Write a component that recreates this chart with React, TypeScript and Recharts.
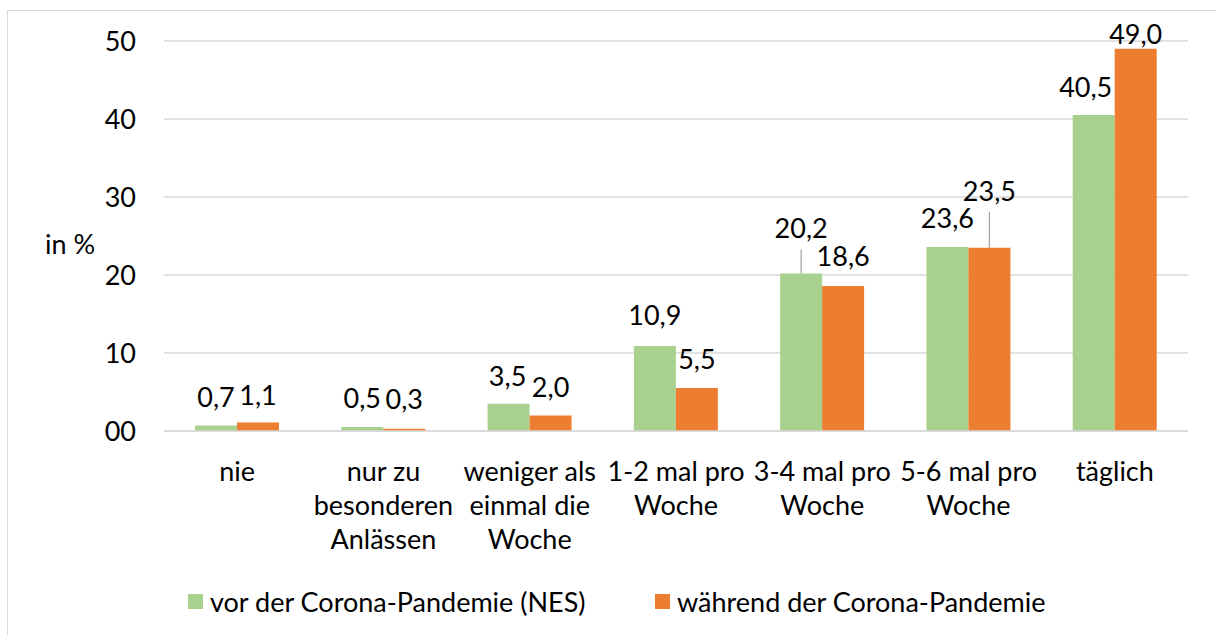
import { BarChart, Bar, XAxis, YAxis, CartesianGrid, Legend } from 'recharts'

const categories = [
  'nie',
  'nur zu\nbesonderen\nAnlässen',
  'weniger als\neinmal die\nWoche',
  '1-2 mal pro\nWoche',
  '3-4 mal pro\nWoche',
  '5-6 mal pro\nWoche',
  'täglich',
]
const vorCorona = [0.7, 0.5, 3.5, 10.9, 20.2, 23.6, 40.5]
const waehrendCorona = [1.1, 0.3, 2.0, 5.5, 18.6, 23.5, 49.0]
const yTicks = [0, 10, 20, 30, 40, 50]
const yTickLabels = ['00', '10', '20', '30', '40', '50']

const GREEN = '#a9d18e'
const ORANGE = '#ed7d31'
const FONT = 'Lato, "Open Sans", sans-serif'
const FS = 27

// label placement tweaks (px above bar top, horizontal shift), as in the source
const greenLift = [28, 28, 27, 30, 44, 28, 27]
const greenShift = [0, 0, -1, 0, 0, 0, -8]
const orangeLift = [26, 29, 27, 28, 29, 56, 14]
const orangeShift = [0, 0, 0, 0, 0, 0, 0]

const data = categories.map((c, i) => ({
  name: c,
  vor: vorCorona[i],
  waehrend: waehrendCorona[i],
}))

const fmt = (v: number) => v.toFixed(1).replace('.', ',')

function makeLabel(lifts: number[], shifts: number[]) {
  return (props: any) => {
    const { x, y, width, value, index } = props
    const lift = lifts[index] ?? 27
    const cx = Number(x) + Number(width) / 2 + (shifts[index] ?? 0)
    const cy = Number(y) - lift
    return (
      <g key={`lbl-${index}`}>
        {lift > 40 && (
          <line
            x1={cx}
            x2={cx}
            y1={cy + 20}
            y2={Number(y)}
            stroke="#a6a6a6"
            strokeWidth={1.3}
          />
        )}
        <text
          x={cx}
          y={cy + 9}
          textAnchor="middle"
          fontFamily={FONT}
          fontSize={FS}
          fill="#000"
        >
          {fmt(Number(value))}
        </text>
      </g>
    )
  }
}

function CategoryTick(props: any) {
  const { x, y, payload } = props
  const lines = String(payload.value).split('\n')
  return (
    <g>
      {lines.map((ln, i) => (
        <text
          key={i}
          x={x}
          y={y + 48 + i * 34}
          textAnchor="middle"
          fontFamily={FONT}
          fontSize={FS}
          fill="#000"
        >
          {ln}
        </text>
      ))}
    </g>
  )
}

function LegendBox() {
  const items = [
    { label: 'vor der Corona-Pandemie (NES)', color: GREEN, left: 188 },
    { label: 'während der Corona-Pandemie', color: ORANGE, left: 655 },
  ]
  return (
    <div style={{ position: 'relative', height: 40, width: 1216 }}>
      {items.map((it) => (
        <div
          key={it.label}
          style={{
            position: 'absolute',
            left: it.left,
            top: 0,
            height: 40,
            display: 'flex',
            alignItems: 'center',
            fontFamily: FONT,
            fontSize: FS,
            color: '#000',
            whiteSpace: 'nowrap',
          }}
        >
          <span
            style={{
              display: 'inline-block',
              width: 15,
              height: 15,
              background: it.color,
              marginRight: 7,
            }}
          />
          {it.label}
        </div>
      ))}
    </div>
  )
}

export default function App() {
  return (
    <div
      style={{
        position: 'absolute',
        left: 0,
        top: 0,
        width: 1216,
        height: 635,
        overflow: 'hidden',
        background: '#fff',
      }}
    >
      <div
        style={{
          position: 'absolute',
          left: 7,
          top: 10,
          width: 1400,
          height: 800,
          border: '1.5px solid #d9d9d9',
        }}
      />
      <BarChart
        width={1216}
        height={635}
        data={data}
        margin={{ top: 41, right: 28, bottom: 14, left: 104 }}
        barGap={0}
        style={{ position: 'absolute', left: 0, top: 0 }}
      >
        <CartesianGrid vertical={false} stroke="#d9d9d9" strokeWidth={1.5} />
        <XAxis
          dataKey="name"
          height={150}
          tickLine={false}
          tickSize={0}
          axisLine={{ stroke: '#d9d9d9', strokeWidth: 1.5 }}
          tick={<CategoryTick />}
          interval={0}
        />
        <YAxis
          width={60}
          domain={[0, 50]}
          ticks={yTicks}
          tickFormatter={(v: number) => yTickLabels[yTicks.indexOf(v)] ?? String(v)}
          axisLine={false}
          tickLine={false}
          tickSize={0}
          tickMargin={28}
          tick={{ fontFamily: FONT, fontSize: FS, fill: '#000' }}
          label={{
            content: () => (
              <text
                x={70}
                y={254}
                textAnchor="middle"
                fontFamily={FONT}
                fontSize={FS}
                fill="#000"
              >
                in %
              </text>
            ),
          }}
        />
        <Legend
          verticalAlign="bottom"
          height={40}
          wrapperStyle={{ left: 0, width: 1216 }}
          content={() => <LegendBox />}
        />
        <Bar
          dataKey="vor"
          name="vor der Corona-Pandemie (NES)"
          fill={GREEN}
          barSize={42}
          isAnimationActive={false}
          label={makeLabel(greenLift, greenShift)}
        />
        <Bar
          dataKey="waehrend"
          name="während der Corona-Pandemie"
          fill={ORANGE}
          barSize={42}
          isAnimationActive={false}
          label={makeLabel(orangeLift, orangeShift)}
        />
      </BarChart>
    </div>
  )
}
